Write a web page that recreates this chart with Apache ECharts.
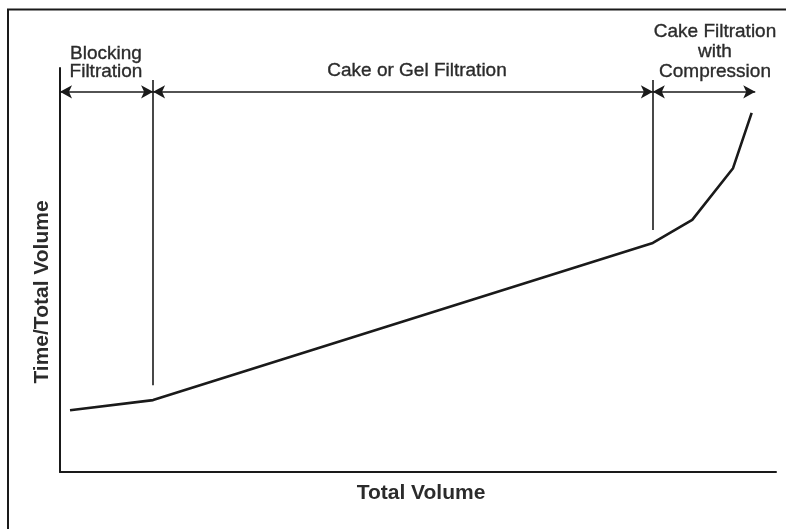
<!DOCTYPE html>
<html>
<head>
<meta charset="utf-8">
<script src="https://cdn.jsdelivr.net/npm/echarts@6/dist/echarts.min.js"></script>
<style>
  html, body { margin: 0; padding: 0; background: #fff; }
  #chart { width: 786px; height: 529px; }
</style>
</head>
<body>
<div id="chart"></div>
<script>
// Filtration curve: time/volume versus total volume (arbitrary units, 0-100)
var volume = [1.4, 13.0, 82.8, 88.3, 94.0, 96.6];
var timePerVolume = [15.3, 17.8, 56.7, 62.4, 75.2, 88.9];

// Regime boundaries along the volume axis and the span of the arrows
var regimeBounds = [0, 13.0, 82.8, 97.1];
var arrowLevel = 94.1;
// Vertical divider lines: [x, bottom, top]
var dividers = [[13.0, 21.5, 97.0], [82.8, 59.9, 97.0]];

var regimeNames = ['Blocking\nFiltration', 'Cake or Gel Filtration', 'Cake Filtration\nwith\nCompression'];

var ink = '#1a1a1a';
var textInk = '#2b2b2b';
var font = '"Liberation Sans", Arial, Helvetica, sans-serif';

var chart = echarts.init(document.getElementById('chart'), null, { renderer: 'canvas' });

var markData = [];
for (var i = 0; i < regimeBounds.length - 1; i++) {
  markData.push([
    { coord: [regimeBounds[i], arrowLevel], symbol: 'arrow' },
    { coord: [regimeBounds[i + 1], arrowLevel], symbol: 'arrow' }
  ]);
}
dividers.forEach(function (d) {
  markData.push([
    { coord: [d[0], d[1]], symbol: 'none', lineStyle: { width: 1.6 } },
    { coord: [d[0], d[2]], symbol: 'none' }
  ]);
});

// Regular-weight labels get a hairline stroke so they read a little heavier
function regimeLabel(x, y, text, lineHeight) {
  return { type: 'text', x: x, y: y, silent: true, style: {
    text: text, font: '19px ' + font, fill: textInk, stroke: textInk, lineWidth: 0.35,
    align: 'center', verticalAlign: 'middle', lineHeight: lineHeight } };
}

var option = {
  backgroundColor: '#ffffff',
  animation: false,
  grid: { left: 60, right: 10, top: 68, bottom: 57 },
  xAxis: {
    type: 'value', min: 0, max: 100,
    axisLine: { show: true, onZero: false, lineStyle: { color: ink, width: 2 } },
    axisTick: { show: false }, axisLabel: { show: false }, splitLine: { show: false }
  },
  yAxis: {
    type: 'value', min: 0, max: 100,
    axisLine: { show: true, onZero: false, lineStyle: { color: ink, width: 2 } },
    axisTick: { show: false }, axisLabel: { show: false }, splitLine: { show: false }
  },
  series: [{
    type: 'line',
    data: volume.map(function (v, i) { return [v, timePerVolume[i]]; }),
    showSymbol: false,
    smooth: false,
    lineStyle: { color: ink, width: 2.6 },
    markLine: {
      silent: true,
      symbolSize: [10, 12],
      label: { show: false },
      lineStyle: { color: ink, width: 1.6, type: 'solid' },
      data: markData
    }
  }],
  graphic: [
    { type: 'rect', shape: { x: 8, y: 9.5, width: 900, height: 700 },
      style: { fill: 'none', stroke: ink, lineWidth: 2 }, silent: true },
    regimeLabel(106, 63, regimeNames[0], 18),
    regimeLabel(417, 71, regimeNames[1], 20),
    regimeLabel(715, 52, regimeNames[2], 20),
    { type: 'text', x: 421, y: 493, style: { text: 'Total Volume', font: 'bold 21px ' + font,
      fill: textInk, align: 'center', verticalAlign: 'middle' } },
    { type: 'text', x: 42, y: 292, rotation: Math.PI / 2, style: { text: 'Time/Total Volume',
      font: 'bold 21px ' + font, fill: textInk, align: 'center', verticalAlign: 'middle' } }
  ]
};

chart.setOption(option);
</script>
</body>
</html>
